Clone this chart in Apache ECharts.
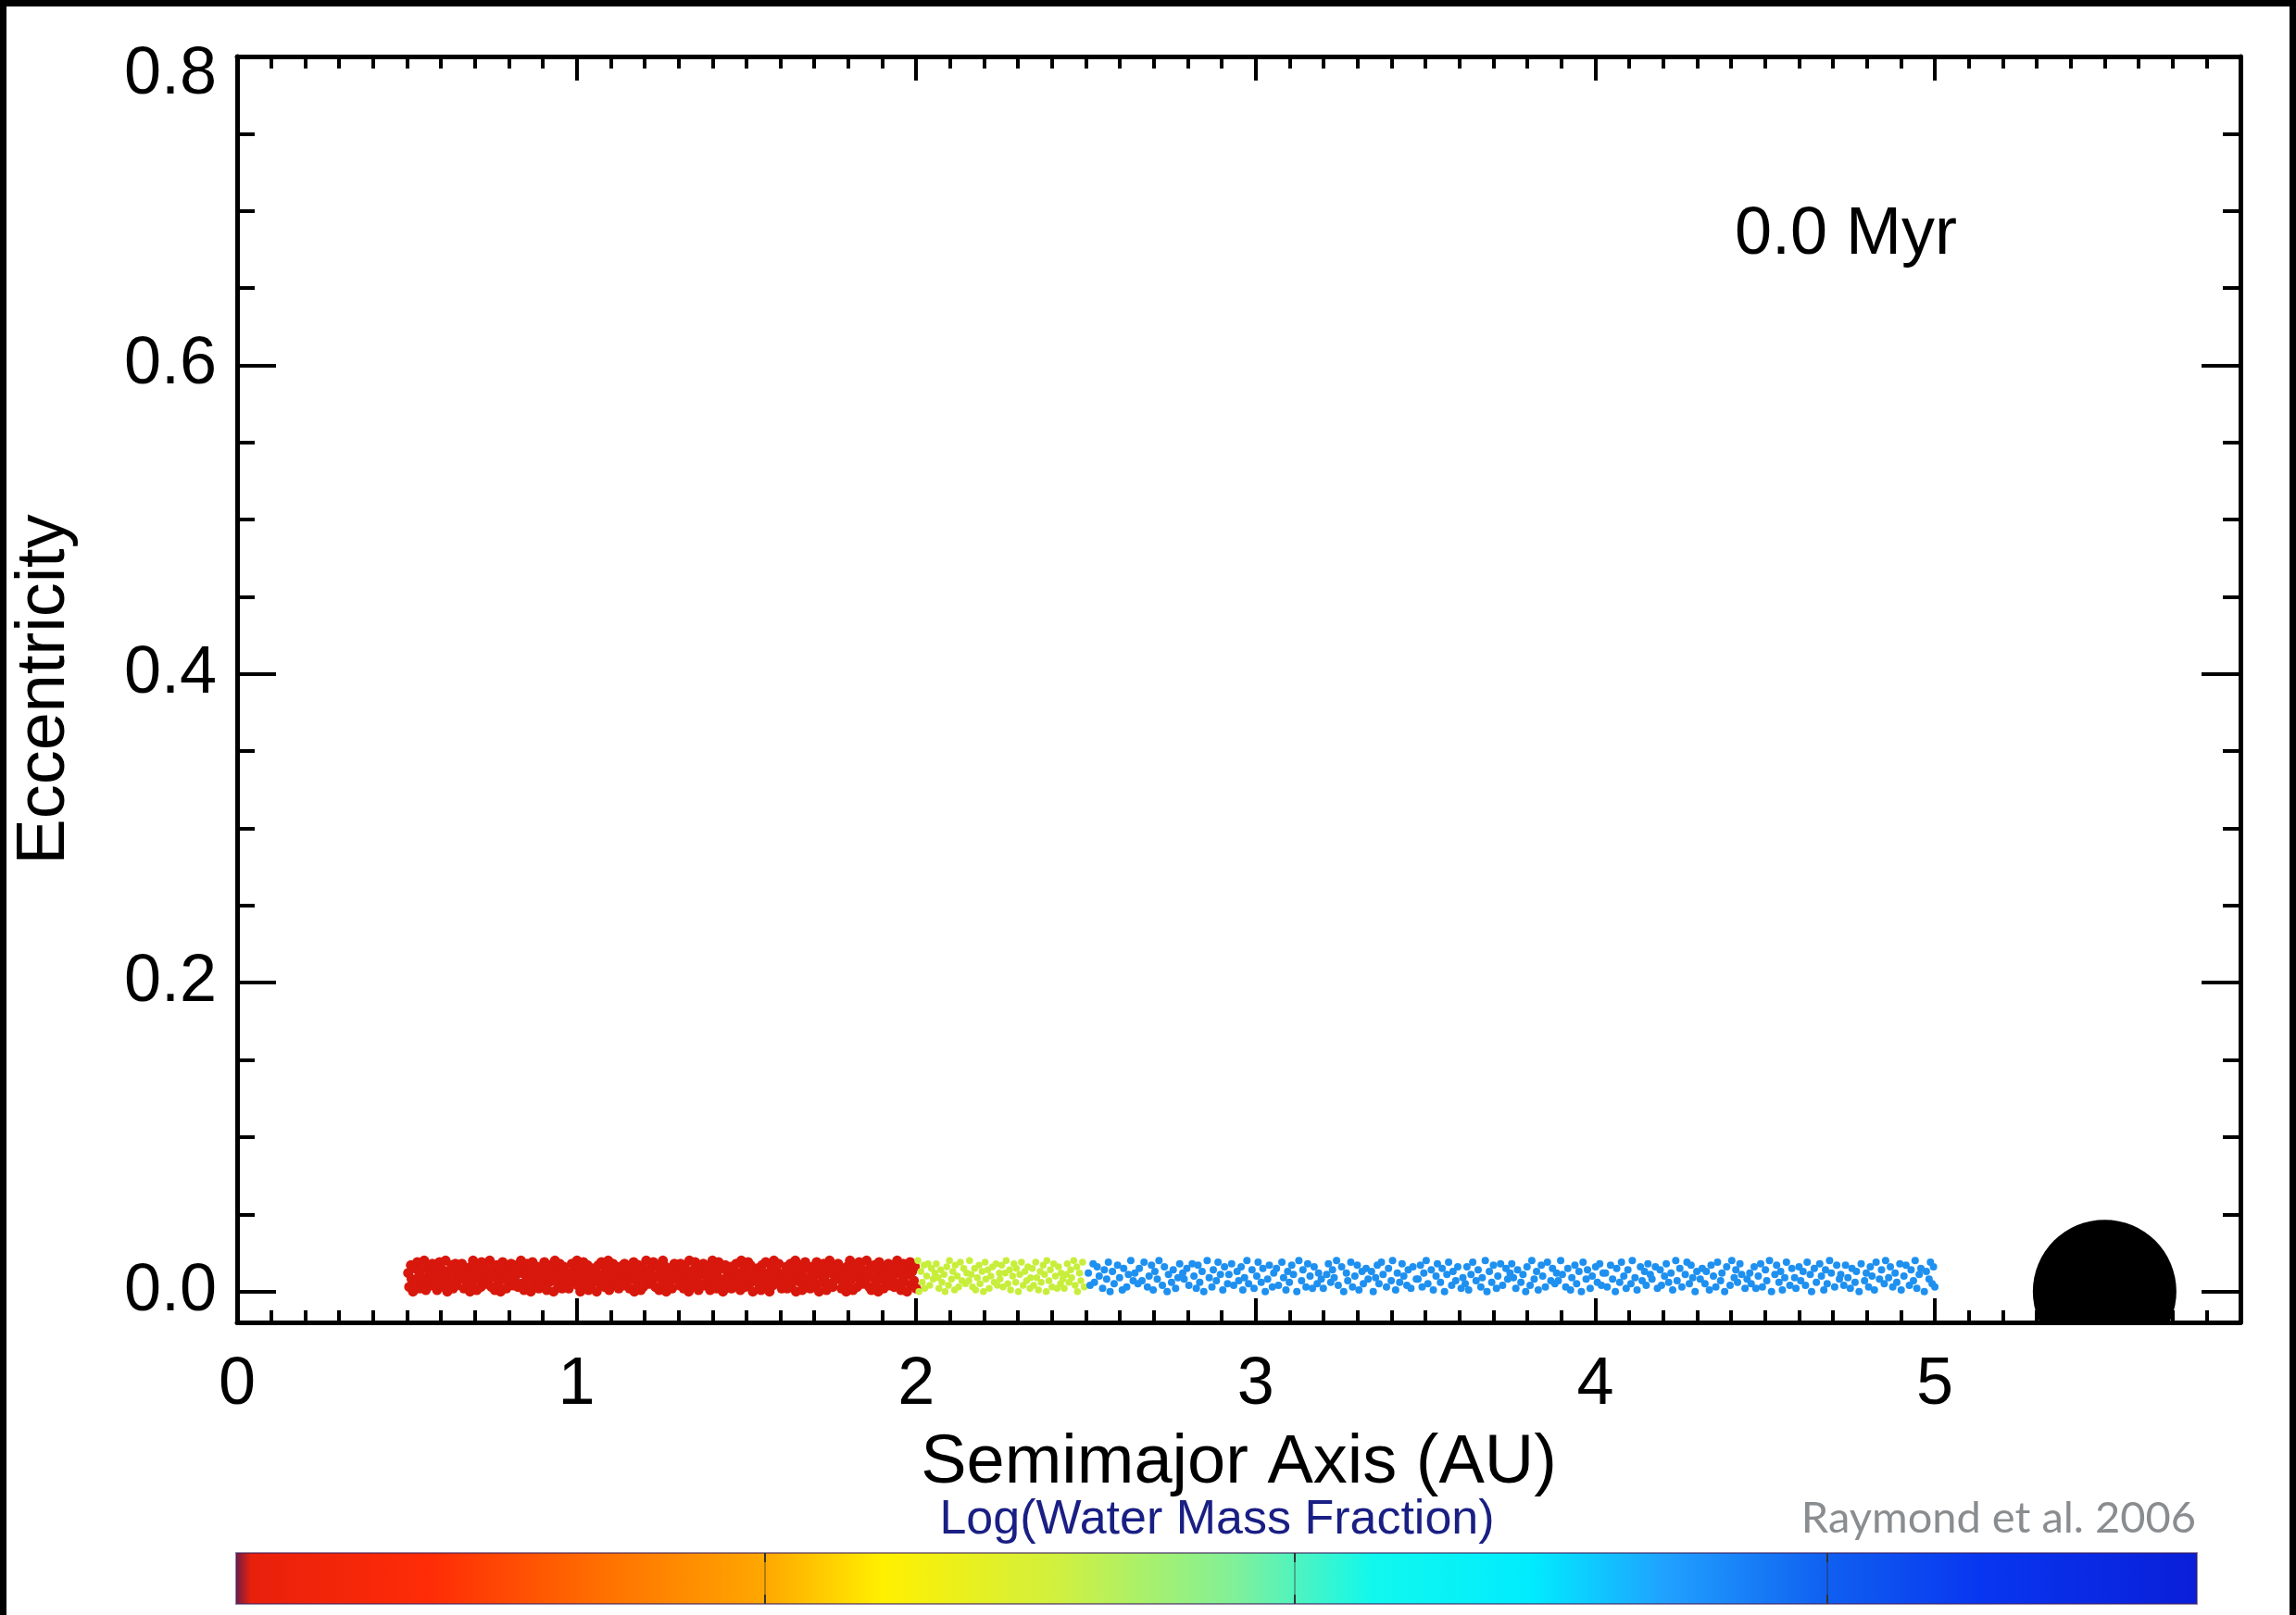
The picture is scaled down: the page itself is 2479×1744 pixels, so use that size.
<!DOCTYPE html>
<html>
<head>
<meta charset="utf-8">
<script src="https://cdn.jsdelivr.net/npm/echarts@6/dist/echarts.min.js"></script>
<style>
html,body{margin:0;padding:0;background:#fff;}
#chart{width:2479px;height:1744px;}
</style>
</head>
<body>
<div id="chart"></div>
<script>
// ---- data (semimajor axis [AU], eccentricity) ----
const xTicks = [0, 1, 2, 3, 4, 5];
const yTicks = [0, 0.2, 0.4, 0.6, 0.8];
const yMinorTicks = [0.05, 0.1, 0.15, 0.25, 0.3, 0.35, 0.45, 0.5, 0.55, 0.65, 0.7, 0.75];

// dry planetesimals (inside 2 AU)
const redPoints = [
[.504,.012],[.507,.003],[.512,.017],[.514,.008],[.518,0],[.524,.015],[.527,.006],[.531,.019],[.536,.010],[.538,.002],[.541,.014],[.545,.005],[.551,.020],[.554,.009],[.556,.001],[.561,.016],[.565,.007],[.568,.013],[.570,.004],[.575,.018],
[.580,.011],[.582,.005],[.585,.016],[.589,.001],[.594,.011],[.596,.019],[.599,.007],[.605,.014],[.609,.003],[.612,.009],[.614,.020],[.619,0],[.623,.013],[.626,.006],[.632,.017],[.636,.002],[.638,.010],[.643,.018],[.646,.004],[.650,.015],
[.654,.008],[.657,.012],[.662,.018],[.664,.009],[.668,.002],[.674,.014],[.677,.006],[.681,.011],[.686,0],[.688,.016],[.691,.004],[.695,.020],[.701,.008],[.704,.013],[.706,.001],[.711,.017],[.715,.010],[.718,.003],[.720,.019],[.725,.007],
[.730,.015],[.732,.005],[.735,.012],[.739,.007],[.744,.020],[.746,.011],[.749,.003],[.755,.015],[.759,.001],[.762,.009],[.764,.017],[.769,.005],[.773,.013],[.776,0],[.782,.019],[.786,.008],[.788,.014],[.793,.002],[.796,.010],[.800,.016],
[.804,.006],[.807,.018],[.812,.004],[.814,.012],[.818,.008],[.824,.017],[.827,.003],[.831,.012],[.836,.020],[.838,.005],[.841,.014],[.845,.001],[.851,.010],[.854,.018],[.856,.006],[.861,.015],[.865,0],[.868,.011],[.870,.019],[.875,.004],
[.880,.013],[.882,.007],[.885,.016],[.889,.002],[.894,.009],[.896,.015],[.899,.004],[.905,.019],[.909,.009],[.912,.001],[.914,.013],[.919,.006],[.923,.017],[.926,.011],[.932,0],[.936,.020],[.938,.007],[.943,.014],[.946,.003],[.950,.018],
[.954,.010],[.957,.002],[.962,.016],[.964,.005],[.968,.012],[.974,.008],[.977,.002],[.981,.011],[.986,.018],[.988,.006],[.991,.014],[.995,.009],[1.001,.020],[1.004,.004],[1.006,.016],[1.011,0],[1.015,.012],[1.018,.007],[1.020,.019],[1.025,.003],
[1.030,.010],[1.032,.017],[1.035,.001],[1.039,.013],[1.044,.005],[1.046,.015],[1.049,.008],[1.055,.013],[1.059,0],[1.062,.009],[1.064,.017],[1.069,.005],[1.073,.019],[1.076,.011],[1.082,.003],[1.086,.015],[1.088,.007],[1.093,.020],[1.096,.001],[1.100,.012],
[1.104,.006],[1.107,.018],[1.112,.010],[1.114,.004],[1.118,.014],[1.124,.002],[1.127,.016],[1.131,.008],[1.136,.012],[1.138,.004],[1.141,.018],[1.145,.006],[1.151,.016],[1.154,.010],[1.156,.002],[1.161,.014],[1.165,.008],[1.168,.019],[1.170,0],[1.175,.013],
[1.180,.005],[1.182,.017],[1.185,.009],[1.189,.001],[1.194,.015],[1.196,.003],[1.199,.011],[1.205,.020],[1.209,.007],[1.212,.012],[1.214,.005],[1.219,.015],[1.223,.007],[1.226,.019],[1.232,.003],[1.236,.010],[1.238,.017],[1.243,.001],[1.246,.013],[1.250,.008],
[1.254,.020],[1.257,.004],[1.262,.016],[1.264,0],[1.268,.011],[1.274,.006],[1.277,.014],[1.281,.002],[1.286,.009],[1.288,.018],[1.291,.012],[1.295,.008],[1.301,.015],[1.304,.004],[1.306,.018],[1.311,.010],[1.315,.002],[1.318,.017],[1.320,.006],[1.325,.013],
[1.330,0],[1.332,.020],[1.335,.009],[1.339,.003],[1.344,.014],[1.346,.007],[1.349,.019],[1.355,.011],[1.359,.001],[1.362,.016],[1.364,.005],[1.369,.011],[1.373,.018],[1.376,.004],[1.382,.013],[1.386,.007],[1.388,.016],[1.393,.001],[1.396,.009],[1.400,.020],
[1.404,.005],[1.407,.014],[1.412,.002],[1.414,.010],[1.418,.019],[1.424,.006],[1.427,.015],[1.431,0],[1.436,.008],[1.438,.017],[1.441,.003],[1.445,.012],[1.451,.008],[1.454,.016],[1.456,.002],[1.461,.014],[1.465,.004],[1.468,.010],[1.470,.018],[1.475,.006],
[1.480,.012],[1.482,.001],[1.485,.020],[1.489,.007],[1.494,.015],[1.496,.003],[1.499,.011],[1.505,.019],[1.509,.005],[1.512,.017],[1.514,.009],[1.519,0],[1.523,.013],[1.526,.008],[1.532,.015],[1.536,.005],[1.538,.013],[1.543,.001],[1.546,.017],[1.550,.010],
[1.554,.003],[1.557,.019],[1.562,.007],[1.564,.012],[1.568,0],[1.574,.016],[1.577,.004],[1.581,.020],[1.586,.009],[1.588,.014],[1.591,.006],[1.595,.018],[1.601,.011],[1.604,.002],[1.606,.008],[1.611,.012],[1.615,.005],[1.618,.016],[1.620,.002],[1.625,.010],
[1.630,.018],[1.632,.003],[1.635,.014],[1.639,.007],[1.644,.020],[1.646,0],[1.649,.011],[1.655,.017],[1.659,.006],[1.662,.013],[1.664,.001],[1.669,.009],[1.673,.019],[1.676,.004],[1.682,.015],[1.686,.009],[1.688,.002],[1.693,.016],[1.696,.007],[1.700,.013],
[1.704,.004],[1.707,.019],[1.712,.011],[1.714,0],[1.718,.015],[1.724,.006],[1.727,.018],[1.731,.010],[1.736,.001],[1.738,.014],[1.741,.005],[1.745,.020],[1.751,.012],[1.754,.003],[1.756,.017],[1.761,.008],[1.765,.008],[1.768,.012],[1.770,.018],[1.775,.009],
[1.780,.002],[1.782,.014],[1.785,.006],[1.789,.011],[1.794,0],[1.796,.016],[1.799,.004],[1.805,.020],[1.809,.008],[1.812,.013],[1.814,.001],[1.819,.017],[1.823,.010],[1.826,.003],[1.832,.019],[1.836,.007],[1.838,.015],[1.843,.005],[1.846,.012],[1.850,.007],
[1.854,.020],[1.857,.011],[1.862,.003],[1.864,.015],[1.868,.001],[1.874,.009],[1.877,.017],[1.881,.005],[1.886,.013],[1.888,0],[1.891,.019],[1.895,.008],[1.901,.014],[1.904,.002],[1.906,.010],[1.911,.016],[1.915,.006],[1.918,.018],[1.920,.004],[1.925,.012],
[1.930,.008],[1.932,.017],[1.935,.003],[1.939,.012],[1.944,.020],[1.946,.005],[1.949,.014],[1.955,.001],[1.959,.010],[1.962,.018],[1.964,.006],[1.969,.015],[1.973,0],[1.976,.011],[1.982,.019],[1.986,.004],[1.988,.013],[1.993,.007],[1.996,.016],[2.000,.002]
];

// intermediate planetesimals (2 - 2.5 AU)
const greenPoints = [
[2.005,.020],[2.008,0],[2.014,.013],[2.018,.006],[2.023,.017],[2.025,.002],[2.031,.010],[2.035,.018],[2.040,.004],[2.045,.015],
[2.050,.008],[2.055,.012],[2.059,.018],[2.065,.009],[2.067,.002],[2.072,.014],[2.076,.006],[2.082,.011],[2.085,0],[2.090,.016],
[2.095,.004],[2.098,.020],[2.104,.008],[2.108,.013],[2.113,.001],[2.115,.017],[2.121,.010],[2.125,.003],[2.130,.019],[2.135,.007],
[2.140,.015],[2.145,.005],[2.149,.012],[2.155,.007],[2.157,.020],[2.162,.011],[2.166,.003],[2.172,.015],[2.175,.001],[2.180,.009],
[2.185,.017],[2.188,.005],[2.194,.013],[2.198,0],[2.203,.019],[2.205,.008],[2.211,.014],[2.215,.002],[2.220,.010],[2.225,.016],
[2.230,.006],[2.235,.018],[2.239,.004],[2.245,.012],[2.247,.008],[2.252,.017],[2.256,.003],[2.262,.012],[2.265,.020],[2.270,.005],
[2.275,.014],[2.278,.001],[2.284,.010],[2.288,.018],[2.293,.006],[2.295,.015],[2.301,0],[2.305,.011],[2.310,.019],[2.315,.004],
[2.320,.013],[2.325,.007],[2.329,.016],[2.335,.002],[2.337,.009],[2.342,.015],[2.346,.004],[2.352,.019],[2.355,.009],[2.360,.001],
[2.365,.013],[2.368,.006],[2.374,.017],[2.378,.011],[2.383,0],[2.385,.020],[2.391,.007],[2.395,.014],[2.400,.003],[2.405,.018],
[2.410,.010],[2.415,.002],[2.419,.016],[2.425,.005],[2.427,.012],[2.432,.008],[2.436,.002],[2.442,.011],[2.445,.018],[2.450,.006],
[2.455,.014],[2.458,.009],[2.464,.020],[2.468,.004],[2.473,.016],[2.475,0],[2.481,.012],[2.485,.007],[2.490,.019],[2.495,.003]
];

// water-rich planetesimals (2.5 - 5 AU)
const bluePoints = [
[2.507,.012],[2.512,.004],[2.521,.018],[2.525,.006],[2.533,.016],[2.539,.010],[2.549,.002],[2.554,.014],[2.561,.008],[2.566,.019],
[2.571,0],[2.578,.013],[2.583,.005],[2.593,.017],[2.599,.009],[2.607,.001],[2.611,.015],[2.620,.003],[2.625,.011],[2.632,.020],
[2.639,.007],[2.644,.012],[2.653,.005],[2.657,.015],[2.665,.007],[2.671,.019],[2.681,.003],[2.686,.010],[2.693,.017],[2.698,.001],
[2.703,.013],[2.710,.008],[2.715,.020],[2.725,.004],[2.731,.016],[2.739,0],[2.743,.011],[2.752,.006],[2.757,.014],[2.764,.002],
[2.771,.009],[2.776,.018],[2.785,.012],[2.789,.008],[2.797,.015],[2.803,.004],[2.813,.018],[2.818,.010],[2.825,.002],[2.830,.017],
[2.835,.006],[2.842,.013],[2.847,0],[2.857,.020],[2.863,.009],[2.871,.003],[2.875,.014],[2.884,.007],[2.889,.019],[2.896,.011],
[2.903,.001],[2.908,.016],[2.917,.005],[2.921,.011],[2.929,.018],[2.935,.004],[2.945,.013],[2.950,.007],[2.957,.016],[2.962,.001],
[2.967,.009],[2.974,.020],[2.979,.005],[2.989,.014],[2.995,.002],[3.003,.010],[3.007,.019],[3.016,.006],[3.021,.015],[3.028,0],
[3.035,.008],[3.040,.017],[3.049,.003],[3.053,.012],[3.061,.015],[3.067,.004],[3.077,.019],[3.082,.009],[3.089,.001],[3.094,.013],
[3.099,.006],[3.106,.017],[3.111,.011],[3.121,0],[3.127,.020],[3.135,.007],[3.139,.014],[3.148,.003],[3.153,.018],[3.160,.010],
[3.167,.002],[3.172,.016],[3.181,.005],[3.185,.012],[3.193,.008],[3.199,.002],[3.209,.011],[3.214,.018],[3.221,.006],[3.226,.014],
[3.231,.009],[3.238,.020],[3.243,.004],[3.253,.016],[3.259,0],[3.267,.012],[3.271,.007],[3.280,.019],[3.285,.003],[3.292,.010],
[3.299,.017],[3.304,.001],[3.313,.013],[3.317,.005],[3.325,.015],[3.331,.008],[3.341,.013],[3.346,0],[3.353,.009],[3.358,.017],
[3.363,.005],[3.370,.019],[3.375,.011],[3.385,.003],[3.391,.015],[3.399,.007],[3.403,.020],[3.412,.001],[3.417,.012],[3.424,.006],
[3.431,.018],[3.436,.010],[3.445,.004],[3.449,.014],[3.457,.002],[3.463,.016],[3.473,.008],[3.478,.008],[3.485,.017],[3.490,.003],
[3.495,.012],[3.502,.020],[3.507,.005],[3.517,.014],[3.523,.001],[3.531,.010],[3.535,.018],[3.544,.006],[3.549,.015],[3.556,0],
[3.563,.011],[3.568,.019],[3.577,.004],[3.581,.013],[3.589,.007],[3.595,.016],[3.605,.002],[3.610,.009],[3.617,.005],[3.622,.016],
[3.627,.001],[3.634,.011],[3.639,.019],[3.649,.007],[3.655,.014],[3.663,.003],[3.667,.009],[3.676,.020],[3.681,0],[3.688,.013],
[3.695,.006],[3.700,.017],[3.709,.002],[3.713,.010],[3.721,.018],[3.727,.004],[3.737,.015],[3.742,.008],[3.749,.012],[3.754,.018],
[3.759,.009],[3.766,.002],[3.771,.014],[3.781,.006],[3.787,.011],[3.795,0],[3.799,.016],[3.808,.004],[3.813,.020],[3.820,.008],
[3.827,.013],[3.832,.001],[3.841,.017],[3.845,.010],[3.853,.003],[3.859,.019],[3.869,.007],[3.874,.015],[3.881,.005],[3.886,.012],
[3.891,.007],[3.898,.020],[3.903,.011],[3.913,.003],[3.919,.015],[3.927,.001],[3.931,.009],[3.940,.017],[3.945,.005],[3.952,.013],
[3.959,0],[3.964,.019],[3.973,.008],[3.977,.014],[3.985,.002],[3.991,.010],[4.001,.016],[4.006,.006],[4.013,.018],[4.018,.004],
[4.023,.012],[4.030,.012],[4.035,.003],[4.045,.017],[4.051,.008],[4.059,0],[4.063,.015],[4.072,.006],[4.077,.019],[4.084,.010],
[4.091,.002],[4.096,.014],[4.105,.005],[4.109,.020],[4.117,.009],[4.123,.001],[4.133,.016],[4.138,.007],[4.145,.013],[4.150,.004],
[4.155,.018],[4.162,.011],[4.167,.008],[4.177,.016],[4.183,.002],[4.191,.014],[4.195,.004],[4.204,.010],[4.209,.018],[4.216,.006],
[4.223,.012],[4.228,.001],[4.237,.020],[4.241,.007],[4.249,.015],[4.255,.003],[4.265,.011],[4.270,.019],[4.277,.005],[4.282,.017],
[4.287,.009],[4.294,0],[4.299,.013],[4.309,.008],[4.315,.015],[4.323,.005],[4.327,.013],[4.336,.001],[4.341,.017],[4.348,.010],
[4.355,.003],[4.360,.019],[4.369,.007],[4.373,.012],[4.381,0],[4.387,.016],[4.397,.004],[4.402,.020],[4.409,.009],[4.414,.014],
[4.419,.006],[4.426,.018],[4.431,.011],[4.441,.002],[4.447,.008],[4.455,.012],[4.459,.005],[4.468,.016],[4.473,.002],[4.480,.010],
[4.487,.018],[4.492,.003],[4.501,.014],[4.505,.007],[4.513,.020],[4.519,0],[4.529,.011],[4.534,.017],[4.541,.006],[4.546,.013],
[4.551,.001],[4.558,.009],[4.563,.019],[4.573,.004],[4.579,.015],[4.587,.009],[4.591,.002],[4.600,.016],[4.605,.007],[4.612,.013],
[4.619,.004],[4.624,.019],[4.633,.011],[4.637,0],[4.645,.015],[4.651,.006],[4.661,.018],[4.666,.010],[4.673,.001],[4.678,.014],
[4.683,.005],[4.690,.020],[4.695,.012],[4.705,.003],[4.711,.017],[4.719,.008],[4.723,.011],[4.732,.004],[4.737,.017],[4.744,.009],
[4.751,.002],[4.756,.015],[4.765,.006],[4.769,.013],[4.777,0],[4.783,.018],[4.793,.007],[4.798,.012],[4.805,.003],[4.810,.016],
[4.815,.010],[4.822,.001],[4.827,.019],[4.837,.008],[4.843,.014],[4.851,.005],[4.855,.020],[4.864,.009],[4.869,.016],[4.876,.003],
[4.883,.012],[4.888,.006],[4.897,.018],[4.901,.001],[4.909,.010],[4.915,.017],[4.925,.004],[4.930,.014],[4.937,.007],[4.942,.020],
[4.947,.002],[4.954,.011],[4.959,.015],[4.969,0],[4.975,.013],[4.983,.008],[4.987,.019],[4.992,.005],[4.996,.016],[5.000,.003]
];

// Jupiter
const jupiter = [[5.5, 0]];

const timeLabel = '0.0 Myr';
const colorbarTitle = 'Log(Water Mass Fraction)';
const credit = 'Raymond et al. 2006';

// ---- chart ----
const FONT = "'Liberation Sans', Arial, Helvetica, sans-serif";
const X_MIN = 0, X_MAX = 5.9, Y_MIN = -0.02, Y_MAX = 0.8;

const xMinorTicks = [];
for (let i = 1; i < 59; i++) { if (i % 10 !== 0) xMinorTicks.push(i / 10); }

function xAxisDef(pos, major) {
  return {
    type: 'value', min: X_MIN, max: X_MAX, position: pos,
    axisLine: { show: major, onZero: false, lineStyle: { color: '#000', width: 5 } },
    axisTick: { show: true, inside: true, length: major ? 26 : 13,
      lineStyle: { color: '#000', width: 4 }, customValues: major ? xTicks : xMinorTicks },
    axisLabel: { show: false },
    splitLine: { show: false }
  };
}
function yAxisDef(pos, major) {
  return {
    type: 'value', min: Y_MIN, max: Y_MAX, position: pos,
    axisLine: { show: major, onZero: false, lineStyle: { color: '#000', width: 5 } },
    axisTick: { show: true, inside: true, length: major ? 42 : 19,
      lineStyle: { color: '#000', width: 4 }, customValues: major ? yTicks : yMinorTicks },
    axisLabel: { show: false },
    splitLine: { show: false }
  };
}

const xMain = xAxisDef('bottom', true);
xMain.axisLabel = { show: true, customValues: xTicks, margin: 32, fontSize: 72,
  fontFamily: FONT, color: '#000', formatter: v => String(v) };
xMain.name = 'Semimajor Axis (AU)';
xMain.nameLocation = 'middle';
xMain.nameGap = 116;
xMain.nameTextStyle = { fontSize: 74, fontFamily: FONT, color: '#000' };

const yMain = yAxisDef('left', true);
yMain.axisLabel = { show: true, customValues: yTicks, margin: 22, fontSize: 72,
  fontFamily: FONT, color: '#000',
  formatter: v => (v === 0.8 ? '{top|0.8}' : v.toFixed(1)),
  rich: { top: { padding: [40, 0, 0, 0], fontSize: 72, fontFamily: FONT, color: '#000' } } };
yMain.name = 'Eccentricity';
yMain.nameLocation = 'middle';
yMain.nameGap = 170;
yMain.nameRotate = 90;
yMain.nameTextStyle = { fontSize: 74, fontFamily: FONT, color: '#000' };

function scatter(name, data, color, size, z) {
  return { type: 'scatter', name, data, xAxisIndex: 0, yAxisIndex: 0,
    symbol: 'circle', symbolSize: size, itemStyle: { color, opacity: 1 },
    silent: true, clip: true, z: z, animation: false };
}

const CB_X = 255, CB_Y = 1677, CB_W = 2117, CB_H = 55;
const cbTickX = [826, 1398, 1973];
const graphics = [
  { type: 'rect', shape: { x: 0, y: 0, width: 2479, height: 7 }, style: { fill: '#000' } },
  { type: 'rect', shape: { x: 0, y: 0, width: 7, height: 1744 }, style: { fill: '#000' } },
  { type: 'rect', shape: { x: 2472, y: 0, width: 7, height: 1744 }, style: { fill: '#000' } },
  { type: 'rect', shape: { x: CB_X, y: CB_Y, width: CB_W, height: CB_H },
    style: { fill: new echarts.graphic.LinearGradient(0, 0, 1, 0, [
      { offset: 0, color: '#6a1c48' }, { offset: 0.008, color: '#e8200c' },
      { offset: 0.10, color: '#ff2c06' }, { offset: 0.19, color: '#ff7200' },
      { offset: 0.27, color: '#ffa800' }, { offset: 0.33, color: '#fff000' },
      { offset: 0.42, color: '#d0f040' }, { offset: 0.51, color: '#80f09a' },
      { offset: 0.58, color: '#10f8ee' }, { offset: 0.66, color: '#00ecff' },
      { offset: 0.73, color: '#20a0ff' }, { offset: 0.81, color: '#1060f0' },
      { offset: 0.89, color: '#0836f0' }, { offset: 1, color: '#0a1ed8' }
    ]), stroke: 'rgba(60,30,90,0.55)', lineWidth: 2 } },
  { type: 'text', x: 1873, y: 254, style: { text: timeLabel, font: '72px ' + FONT,
      fill: '#000', textAlign: 'left', textVerticalAlign: 'middle' } },
  { type: 'text', x: 1314, y: 1642, style: { text: colorbarTitle, font: '52px ' + FONT,
      fill: '#1a1f84', textAlign: 'center', textVerticalAlign: 'middle' } },
  { type: 'text', x: 2371, y: 1640, style: { text: credit, font: "47px Lato, 'Open Sans', sans-serif",
      fill: '#898d90', textAlign: 'right', textVerticalAlign: 'middle' } }
];
cbTickX.forEach(x => {
  graphics.push({ type: 'line', shape: { x1: x, y1: CB_Y, x2: x, y2: CB_Y + CB_H },
    style: { stroke: 'rgba(40,40,40,0.35)', lineWidth: 2 } });
  graphics.push({ type: 'line', shape: { x1: x, y1: CB_Y, x2: x, y2: CB_Y + 10 },
    style: { stroke: '#333', lineWidth: 2 } });
  graphics.push({ type: 'line', shape: { x1: x, y1: CB_Y + CB_H - 10, x2: x, y2: CB_Y + CB_H },
    style: { stroke: '#333', lineWidth: 2 } });
});

const chart = echarts.init(document.getElementById('chart'), null, { renderer: 'canvas' });
chart.setOption({
  animation: false,
  backgroundColor: '#fff',
  grid: { left: 256, right: 60, top: 61, bottom: 316, containLabel: false, outerBoundsMode: 'none' },
  xAxis: [xMain, xAxisDef('bottom', false), xAxisDef('top', true), xAxisDef('top', false)],
  yAxis: [yMain, yAxisDef('left', false), yAxisDef('right', true), yAxisDef('right', false)],
  series: [
    scatter('dry', redPoints, '#d8180c', 11, 2),
    scatter('intermediate', greenPoints, '#c8ee3c', 7.5, 3),
    scatter('water-rich', bluePoints, '#1e90f0', 8, 4),
    {
      type: 'custom', name: 'Jupiter', data: jupiter, xAxisIndex: 0, yAxisIndex: 0,
      encode: { x: 0, y: 1 }, clip: true, silent: true, z: 5,
      renderItem: function (params, api) {
        const p = api.coord([api.value(0), api.value(1)]);
        return { type: 'circle', shape: { cx: p[0], cy: p[1], r: 77.5 }, style: { fill: '#000' } };
      }
    }
  ],
  graphic: { elements: graphics }
});
</script>
</body>
</html>
